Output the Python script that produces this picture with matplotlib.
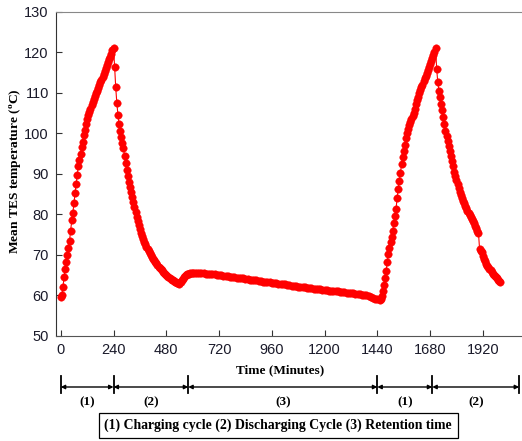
import numpy as np
import matplotlib
matplotlib.use("Agg")
import matplotlib.pyplot as plt
import matplotlib.transforms as mtransforms

# ---------------- data ----------------
# charging cycle 1: start 0 min, 5-min step
chg1_start, chg1_step = 0, 5
chg1_T = [59.5, 60.2, 62.0, 64.5, 66.5, 68.3, 70.0, 71.8, 73.5, 76.0,
          78.5, 80.3, 82.8, 85.2, 87.5, 89.7, 92.0, 93.5, 94.8, 96.5,
          97.8, 99.5, 100.8, 102.3, 103.5, 104.5, 105.3, 106.0, 107.0, 107.8,
          108.5, 109.2, 109.8, 110.4, 111.2, 111.9, 112.5, 113.1, 113.8, 114.5,
          115.3, 116.0, 116.8, 117.5, 118.2, 118.9, 119.6, 120.4, 121.0]
# discharging cycle 1: start 245 min, 5-min step
dis1_start, dis1_step = 245, 5
dis1_T = [116.4, 111.3, 107.5, 104.6, 102.3, 100.6, 99.0, 97.6, 96.3, 94.5,
          92.6, 90.9, 89.4, 88.0, 86.8, 85.5, 84.2, 83.0, 81.8, 80.6,
          79.4, 78.3, 77.3, 76.3, 75.5, 74.7, 73.9, 73.2, 72.6, 72.0,
          71.4, 70.9, 70.4, 69.9, 69.5, 69.1, 68.7, 68.3, 67.9, 67.5,
          67.1, 66.8, 66.5, 66.2, 65.9, 65.6, 65.3, 65.0, 64.8, 64.5,
          64.3, 64.1, 63.9, 63.8, 63.6, 63.4, 63.3, 63.1, 63.0, 62.9,
          63.2, 63.7, 64.1, 64.5, 64.8, 65.0, 65.2, 65.3, 65.4, 65.5,
          65.5, 65.6]
# retention: start 610 min, 10-min step
ret_start, ret_step = 610, 10
ret_T = [65.6, 65.6, 65.6, 65.5, 65.5, 65.4, 65.4, 65.3, 65.3, 65.2,
         65.1, 65.0, 65.0, 64.9, 64.8, 64.7, 64.6, 64.6, 64.5, 64.4,
         64.3, 64.2, 64.2, 64.1, 64.0, 63.9, 63.8, 63.8, 63.7, 63.6,
         63.5, 63.4, 63.4, 63.3, 63.2, 63.1, 63.0, 63.0, 62.9, 62.8,
         62.7, 62.7, 62.6, 62.5, 62.4, 62.4, 62.3, 62.2, 62.1, 62.1,
         62.0, 61.9, 61.8, 61.8, 61.7, 61.6, 61.6, 61.5, 61.4, 61.4,
         61.3, 61.2, 61.2, 61.1, 61.0, 61.0, 60.9, 60.8, 60.8, 60.7,
         60.6, 60.6, 60.5, 60.4, 60.4, 60.3, 60.2, 60.1, 60.0, 59.8,
         59.6, 59.4, 59.2, 59.0, 58.9]
# charging cycle 2: start 1455 min, 5-min step
chg2_start, chg2_step = 1455, 5
chg2_T = [59.0, 59.8, 61.0, 62.5, 64.2, 66.0, 68.2, 70.3, 71.8, 73.1,
          74.4, 76.0, 77.8, 79.7, 81.3, 84.0, 86.3, 88.3, 90.2, 92.5,
          94.2, 95.5, 97.2, 98.8, 100.0, 101.0, 102.0, 102.8, 103.5, 104.2,
          104.9, 105.9, 107.1, 108.2, 109.0, 109.8, 110.6, 111.3, 112.0, 112.8,
          113.5, 114.2, 114.9, 115.6, 116.3, 117.0, 117.7, 118.5, 119.3, 120.1,
          120.9]
# discharging cycle 2: start 1710 min, 5-min step
dis2_start, dis2_step = 1710, 5
dis2_T = [115.8, 112.5, 110.5, 108.8, 107.3, 105.8, 104.0, 102.3, 100.6, 99.2,
          98.0, 96.9, 95.7, 94.4, 93.1, 91.8, 90.5, 89.5, 88.5, 87.5,
          86.5, 85.6, 84.8, 84.0, 83.3, 82.7, 82.1, 81.5, 80.9, 80.4,
          79.9, 79.4, 78.9, 78.3, 77.8, 77.2, 76.6, 76.0, 75.4, 71.5,
          71.0, 70.6, 69.6, 69.1, 68.5, 67.8, 67.3, 66.9, 66.5, 66.2,
          65.8, 65.4, 65.1, 64.8, 64.5, 64.2, 63.9, 63.6, 63.3]

xticks = [0, 240, 480, 720, 960, 1200, 1440, 1680, 1920]
yticks = [50, 60, 70, 80, 90, 100, 110, 120, 130]
phase_bounds = [0, 240, 580, 1440, 1690, 2085]
phase_labels = ["(1)", "(2)", "(3)", "(1)", "(2)"]
legend_text = "(1) Charging cycle (2) Discharging Cycle (3) Retention time"

segments = [(chg1_start, chg1_step, chg1_T), (dis1_start, dis1_step, dis1_T),
            (ret_start, ret_step, ret_T), (chg2_start, chg2_step, chg2_T),
            (dis2_start, dis2_step, dis2_T)]
t_all, T_all = [], []
for s, d, vals in segments:
    t_all.extend(s + d * np.arange(len(vals)))
    T_all.extend(vals)

# ---------------- figure ----------------
plt.rcParams['mathtext.fontset'] = 'custom'
plt.rcParams['mathtext.rm'] = 'Liberation Serif:bold'
plt.rcParams['mathtext.it'] = 'Liberation Serif:bold'
plt.rcParams['mathtext.bf'] = 'Liberation Serif:bold'

fig = plt.figure(figsize=(5.22, 4.41), dpi=100)
ax = fig.add_axes([0.1067, 0.2381, 0.8933, 0.7358])

ax.plot(t_all, T_all, color='red', lw=0.8, marker='o', ms=5.4,
        mfc='red', mec='red', mew=0.3)

ax.set_xlim(-23, 2098)
ax.set_ylim(50, 130)
ax.set_xticks(xticks)
ax.set_yticks(yticks)
ax.tick_params(direction='in', length=4, width=0.8, colors='#333333',
               labelsize=10.5, pad=5)
for lab in ax.get_xticklabels() + ax.get_yticklabels():
    lab.set_family('Liberation Sans')
    lab.set_color('#1a1a2a')
ax.spines['right'].set_visible(False)
ax.spines['top'].set_color('#888888')
ax.spines['left'].set_color('#333333')
ax.spines['bottom'].set_color('#555555')

fig.text(15 / 522, 1 - 171 / 441, r'Mean TES temperature ($^\mathrm{o}$C)',
         family='Liberation Serif', fontweight='bold', fontsize=9.7,
         rotation=90, ha='center', va='center')
fig.text(0.537, 1 - 370 / 441, 'Time (Minutes)', family='Liberation Serif',
         fontweight='bold', fontsize=9.5, ha='center', va='center')

# phase arrows under the axis
trans = mtransforms.blended_transform_factory(ax.transData, fig.transFigure)
y_arrow = 1 - 387 / 441
y_bar_top = 1 - 376 / 441
y_bar_bot = 1 - 393 / 441
y_lab = 1 - 402 / 441
for xb in phase_bounds:
    ax.plot([xb, xb], [y_bar_bot, y_bar_top], transform=trans, color='black',
            lw=1.3, clip_on=False)
for i, lab in enumerate(phase_labels):
    a, b = phase_bounds[i], phase_bounds[i + 1]
    ax.annotate('', xy=(a, y_arrow), xytext=(b, y_arrow), xycoords=trans,
                textcoords=trans,
                arrowprops=dict(arrowstyle='<|-|>', color='black', lw=1.0,
                                mutation_scale=6, shrinkA=0, shrinkB=0))
    ax.text((a + b) / 2, y_lab, lab, transform=trans, ha='center', va='center',
            family='Liberation Serif', fontweight='bold', fontsize=9.5,
            clip_on=False)

fig.text(0.533, 1 - 425.5 / 441, legend_text, family='Liberation Serif',
         fontweight='bold', fontsize=9.9, ha='center', va='center',
         bbox=dict(boxstyle='square,pad=0.4', fc='white', ec='black', lw=0.9))

fig.savefig('out.png', dpi=100)
